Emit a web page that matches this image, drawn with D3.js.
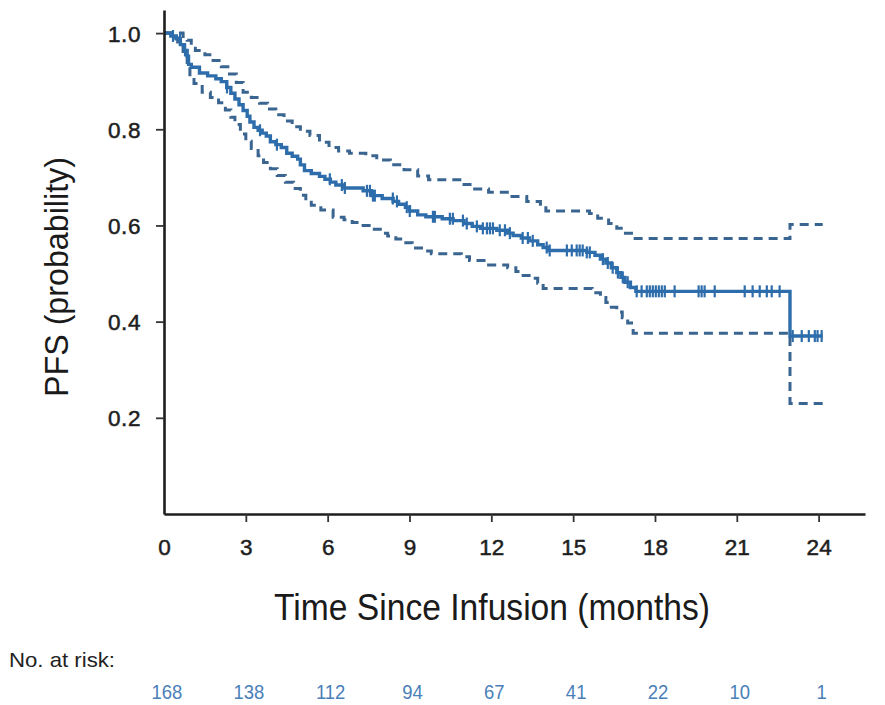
<!DOCTYPE html>
<html>
<head>
<meta charset="utf-8">
<script src="https://cdn.jsdelivr.net/npm/d3@7"></script>
<style>
  html, body { margin: 0; padding: 0; background: #fff; }
  svg { display: block; font-family: "Liberation Sans", Arial, Helvetica, sans-serif; }
</style>
</head>
<body>
<svg id="chart" width="885" height="705"></svg>
<script>
// Kaplan-Meier progression-free survival estimate (step times in months, survival probability)
const pfsTimes = [0, 0.25, 0.45, 0.6, 0.75, 0.85, 0.9, 1.0, 1.3, 1.6, 1.9, 2.1, 2.3, 2.45, 2.6, 2.75, 2.9, 3.05, 3.15, 3.3, 3.45, 3.6, 3.75, 3.9, 4.1, 4.3, 4.5, 4.7, 4.9, 5.0, 5.15, 5.4, 5.7, 5.9, 6.1, 6.3, 6.6, 7.3, 7.6, 8.0, 8.4, 8.6, 8.85, 9.0, 9.3, 9.6, 10.2, 10.6, 11.0, 11.3, 11.6, 12.2, 12.6, 12.8, 13.1, 13.4, 13.7, 13.9, 14.1, 15.5, 15.8, 16.0, 16.2, 16.4, 16.6, 16.75, 16.9, 17.1, 17.3, 22.95];
const pfsValues = [1.0, 0.994, 0.988, 0.976, 0.964, 0.952, 0.935, 0.929, 0.917, 0.911, 0.905, 0.899, 0.887, 0.875, 0.863, 0.851, 0.839, 0.827, 0.815, 0.804, 0.798, 0.792, 0.786, 0.774, 0.768, 0.762, 0.75, 0.744, 0.738, 0.726, 0.714, 0.708, 0.702, 0.696, 0.69, 0.684, 0.678, 0.672, 0.662, 0.656, 0.65, 0.644, 0.638, 0.63, 0.622, 0.618, 0.614, 0.61, 0.604, 0.598, 0.594, 0.59, 0.584, 0.579, 0.574, 0.568, 0.56, 0.554, 0.548, 0.544, 0.538, 0.53, 0.522, 0.512, 0.502, 0.492, 0.482, 0.471, 0.463, 0.37];

// Upper 95% confidence limit
const upperTimes = [0, 0.7, 0.85, 1.0, 1.15, 1.5, 1.8, 2.1, 2.4, 2.65, 2.9, 3.2, 3.5, 3.8, 4.1, 4.4, 4.7, 5.0, 5.35, 5.7, 6.05, 6.4, 6.8, 7.4, 7.8, 8.3, 8.8, 9.3, 9.7, 11.0, 11.3, 11.9, 12.7, 13.3, 13.8, 14.0, 15.6, 15.9, 16.3, 16.6, 16.85, 17.2, 22.95];
const upperValues = [1.0, 0.993, 0.985, 0.975, 0.964, 0.955, 0.943, 0.93, 0.915, 0.897, 0.877, 0.866, 0.854, 0.842, 0.83, 0.817, 0.805, 0.796, 0.787, 0.773, 0.762, 0.755, 0.75, 0.745, 0.736, 0.726, 0.716, 0.703, 0.695, 0.685, 0.676, 0.669, 0.66, 0.65, 0.64, 0.63, 0.625, 0.615, 0.604, 0.594, 0.584, 0.573, 0.602];

// Lower 95% confidence limit
const lowerTimes = [0, 0.3, 0.5, 0.7, 0.85, 0.95, 1.1, 1.4, 1.7, 2.0, 2.25, 2.45, 2.6, 2.8, 3.0, 3.2, 3.45, 3.65, 3.9, 4.15, 4.45, 4.75, 5.0, 5.2, 5.4, 5.75, 6.2, 6.6, 6.9, 7.3, 7.6, 8.0, 8.2, 8.5, 8.8, 9.1, 9.5, 9.8, 10.9, 11.2, 11.9, 12.6, 12.9, 13.1, 13.5, 13.7, 13.9, 15.7, 16.0, 16.2, 16.4, 16.6, 16.8, 17.0, 17.2, 22.95];
const lowerValues = [1.0, 0.99, 0.975, 0.955, 0.935, 0.91, 0.895, 0.877, 0.866, 0.855, 0.84, 0.825, 0.81, 0.79, 0.775, 0.76, 0.745, 0.731, 0.718, 0.704, 0.69, 0.677, 0.663, 0.652, 0.642, 0.632, 0.617, 0.612, 0.606, 0.6, 0.592, 0.584, 0.578, 0.572, 0.564, 0.553, 0.547, 0.541, 0.535, 0.527, 0.518, 0.512, 0.504, 0.496, 0.49, 0.48, 0.469, 0.46, 0.45, 0.44, 0.43, 0.42, 0.408, 0.397, 0.376, 0.23];

// Last follow-up time shared by all three curves
const followUpEnd = 24.15;

// Censored observations (months)
const censorTimes = [0.33, 0.59, 0.77, 2.31, 3.52, 4.14, 6.08, 6.52, 6.63, 7.44, 7.55, 7.66, 7.73, 8.39, 8.54, 8.9, 9.01, 9.86, 9.93, 10.48, 10.59, 10.96, 11.1, 11.47, 11.69, 11.84, 11.95, 12.06, 12.31, 12.5, 12.68, 13.15, 13.34, 13.52, 14.03, 14.14, 14.77, 14.95, 15.13, 15.24, 15.35, 15.5, 15.61, 16.09, 16.27, 16.45, 16.64, 16.82, 17.0, 17.33, 17.51, 17.7, 17.81, 17.92, 18.03, 18.14, 18.25, 18.36, 18.72, 19.6, 19.71, 19.82, 20.19, 21.29, 21.58, 21.84, 22.1, 22.28, 22.57, 23.05, 23.38, 23.64, 23.86, 23.96, 24.11];

// Axis ticks and number-at-risk table
const xTicks = [0, 3, 6, 9, 12, 15, 18, 21, 24];
const yTicks = [0.2, 0.4, 0.6, 0.8, 1.0];
const atRiskTimes = [0, 3, 6, 9, 12, 15, 18, 21, 24];
const atRiskCounts = [168, 138, 112, 94, 67, 41, 22, 10, 1];

const svg = d3.select("#chart");

const x = d3.scaleLinear().domain([0, 25.7]).range([164, 865]);
const y = d3.scaleLinear().domain([0, 1.048]).range([514, 10]);

const mainColor = "#2e6dab";
const ciColor = "#3a6590";
const riskColor = "#4a80b8";

// Build step-curve points, extended to the end of follow-up
function stepPoints(times, values) {
  const pts = times.map((t, i) => [t, values[i]]);
  pts.push([followUpEnd, values[values.length - 1]]);
  return pts;
}
function survivalAt(t) {
  const i = d3.bisectRight(pfsTimes, t) - 1;
  return pfsValues[Math.max(0, i)];
}

const line = d3.line()
  .x(d => x(d[0]))
  .y(d => y(d[1]))
  .curve(d3.curveStepAfter);

const plot = svg.append("g");

[[upperTimes, upperValues], [lowerTimes, lowerValues]].forEach(([t, v]) => {
  plot.append("path")
    .datum(stepPoints(t, v))
    .attr("d", line)
    .attr("fill", "none")
    .attr("stroke", ciColor)
    .attr("stroke-width", 3)
    .attr("stroke-dasharray", "9,6");
});

plot.append("path")
  .datum(stepPoints(pfsTimes, pfsValues))
  .attr("d", line)
  .attr("fill", "none")
  .attr("stroke", mainColor)
  .attr("stroke-width", 3.4);

// Censor marks
plot.selectAll("line.censor")
  .data(censorTimes)
  .join("line")
  .attr("class", "censor")
  .attr("x1", d => x(d))
  .attr("x2", d => x(d))
  .attr("y1", d => y(survivalAt(d)) - 6)
  .attr("y2", d => y(survivalAt(d)) + 6)
  .attr("stroke", mainColor)
  .attr("stroke-width", 2.2);

// Axes
const yAxis = svg.append("g")
  .attr("transform", `translate(${x(0)},0)`)
  .call(d3.axisLeft(y).tickValues(yTicks).tickFormat(d3.format(".1f")).tickSize(8).tickSizeOuter(0).tickPadding(15));

const xAxis = svg.append("g")
  .attr("transform", `translate(0,${y(0)})`)
  .call(d3.axisBottom(x).tickValues(xTicks).tickFormat(d3.format("d")).tickSize(8).tickSizeOuter(0).tickPadding(17));

[yAxis, xAxis].forEach(g => {
  g.select(".domain").attr("stroke", "#1e1e1e").attr("stroke-width", 2.6);
  g.selectAll(".tick line").attr("stroke", "#333").attr("stroke-width", 1.8);
  g.selectAll(".tick text")
    .attr("fill", "#1e1e1e")
    .attr("stroke", "#1e1e1e")
    .attr("stroke-width", 0.5)
    .style("font-size", "22.5px")
    .style("font-family", "'Liberation Sans', Arial, sans-serif");
});
yAxis.selectAll(".tick text").attr("dy", "0.36em").style("letter-spacing", "0.6px");
xAxis.selectAll(".tick line").filter(d => d === 0).remove();

// Axis titles (condensed lettering)
svg.append("text")
  .attr("x", 492)
  .attr("y", 620)
  .attr("text-anchor", "middle")
  .attr("fill", "#1a1a1a")
  .attr("textLength", 436)
  .attr("lengthAdjust", "spacingAndGlyphs")
  .style("font-size", "36px")
  .text("Time Since Infusion (months)");

svg.append("text")
  .attr("transform", "translate(68,277) rotate(-90)")
  .attr("text-anchor", "middle")
  .attr("fill", "#1a1a1a")
  .attr("textLength", 240)
  .attr("lengthAdjust", "spacingAndGlyphs")
  .style("font-size", "34px")
  .text("PFS (probability)");

// Number at risk
svg.append("text")
  .attr("x", 9)
  .attr("y", 667)
  .attr("fill", "#222")
  .attr("textLength", 106)
  .attr("lengthAdjust", "spacingAndGlyphs")
  .style("font-size", "21px")
  .text("No. at risk:");

svg.append("g")
  .selectAll("text")
  .data(atRiskCounts)
  .join("text")
  .attr("x", (d, i) => x(atRiskTimes[i]) + 3)
  .attr("y", 699)
  .attr("text-anchor", "middle")
  .attr("fill", riskColor)
  .attr("transform", (d, i) => `translate(${(x(atRiskTimes[i]) + 3) * 0.12},0) scale(0.88,1)`)
  .style("font-size", "21px")
  .text(d => d);
</script>
</body>
</html>
